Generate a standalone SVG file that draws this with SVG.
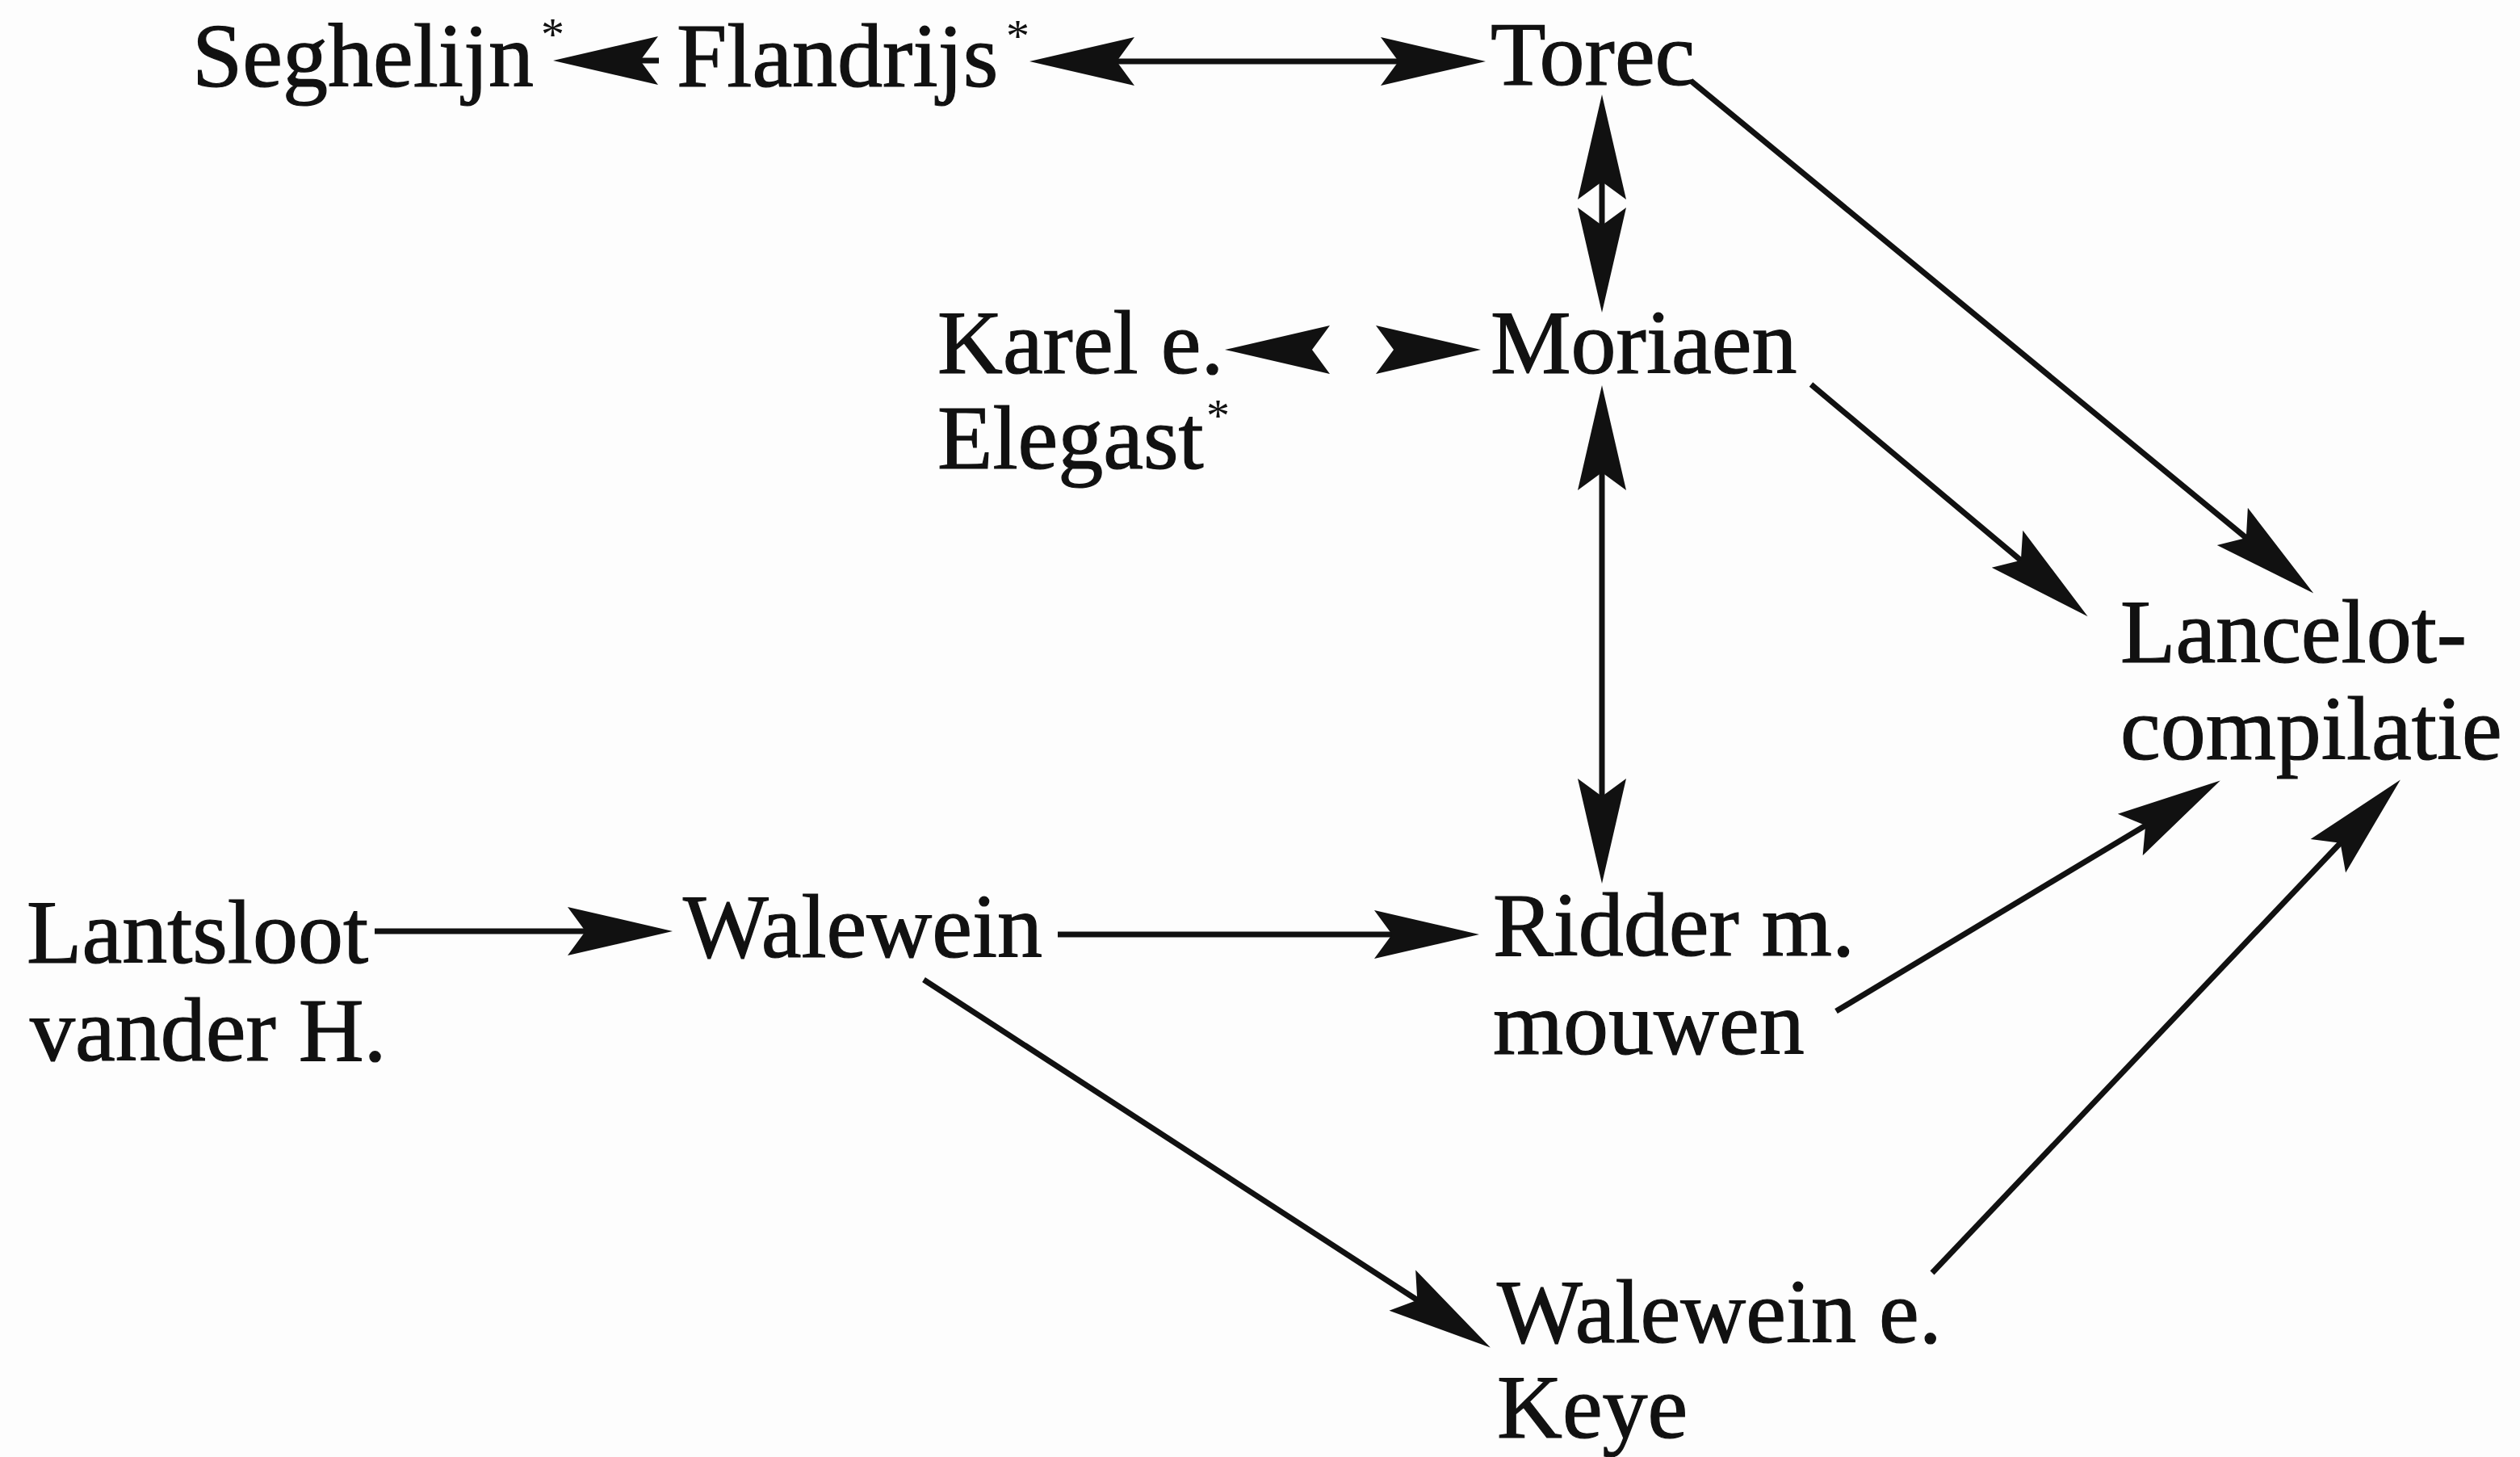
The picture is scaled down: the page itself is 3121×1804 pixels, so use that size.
<svg xmlns="http://www.w3.org/2000/svg" width="3121" height="1804" viewBox="0 0 3121 1804">
<style>
.t{font-family:"Liberation Serif","Times New Roman",serif;font-size:112px;fill:#111;stroke:#111;stroke-width:1.2}
.s{font-family:"Liberation Serif","Times New Roman",serif;font-size:58px;fill:#111}
.c{fill:none;stroke:#111;stroke-width:7;marker-end:url(#ah)}
.b{marker-start:url(#ah)}
</style>
<defs>
<marker id="ah" markerUnits="userSpaceOnUse" viewBox="-35 -34 140 68" markerWidth="140" markerHeight="68" refX="0" refY="0" orient="auto-start-reverse" overflow="visible">
<path d="M100,0 L-30,-30 L-8,0 L-30,30 Z" fill="#111"/>
</marker>
</defs>
<rect width="3121" height="1804" fill="#fdfdfd"/>
<g id="connectors">
<path class="c" d="M816,75 L785,75"/>
<path class="c b" d="M1375,76 L1740,76"/>
<path class="c b" d="M1984,217 L1984,287"/>
<path class="c b" d="M1617,433 L1620,433 M1731,433 L1734,433"/>
<path class="c b" d="M1984,577 L1984,994"/>
<path class="c" d="M464,1153 L733,1153"/>
<path class="c" d="M1310,1157 L1732,1157"/>
<path class="c" d="M1144,1213 L1762,1614"/>
<path class="c" d="M2094,100 L2788,671"/>
<path class="c" d="M2243,476 L2509,699"/>
<path class="c" d="M2274,1252 L2664,1018"/>
<path class="c" d="M2393,1576 L2904,1038"/>
</g>
<g id="seghelijn"><text class="t" x="238" y="107">Seghelijn</text><text class="s" x="670" y="62">*</text></g>
<g id="flandrijs"><text class="t" x="838" y="107">Flandrijs</text><text class="s" x="1246" y="64">*</text></g>
<g id="torec"><text class="t" x="1846" y="105">Torec</text></g>
<g id="karel"><text class="t" x="1161" y="462">Karel e.</text><text class="t" x="1161" y="580">Elegast</text><text class="s" x="1494" y="534">*</text></g>
<g id="moriaen"><text class="t" x="1846" y="462">Moriaen</text></g>
<g id="lancelot"><text class="t" x="2626" y="820">Lancelot-</text><text class="t" x="2626" y="940">compilatie</text></g>
<g id="lantsloot"><text class="t" x="33" y="1192">Lantsloot</text><text class="t" x="37" y="1313">vander H.</text></g>
<g id="walewein"><text class="t" x="846" y="1185">Walewein</text></g>
<g id="ridder"><text class="t" x="1849" y="1183">Ridder m.</text><text class="t" x="1849" y="1305">mouwen</text></g>
<g id="walewein-keye"><text class="t" x="1854" y="1662">Walewein e.</text><text class="t" x="1854" y="1780">Keye</text></g>
</svg>
